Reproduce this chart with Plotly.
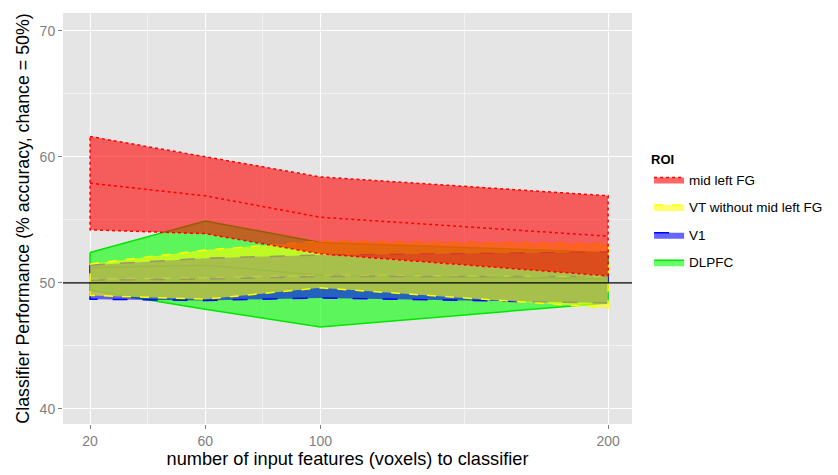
import plotly.graph_objects as go

features = [20, 60, 100, 200]

fg_mean = [57.9, 56.9, 55.2, 53.7]
fg_upper = [61.6, 60.0, 58.4, 56.9]
fg_lower = [54.2, 53.9, 52.3, 50.55]

vt_mean = [50.3, 50.4, 50.6, 50.5]
vt_upper = [51.5, 52.6, 53.3, 53.1]
vt_lower = [49.0, 48.7, 49.6, 48.0]

v1_mean = [50.2, 50.3, 50.5, 50.5]
v1_upper = [51.4, 51.95, 52.2, 52.45]
v1_lower = [48.7, 48.6, 48.8, 48.4]

dl_mean = [51.2, 51.4, 50.6, 50.3]
dl_upper = [52.4, 54.9, 53.2, 52.4]
dl_lower = [49.4, 47.9, 46.5, 48.4]

# drawn back to front; legendrank gives the legend order
series = [
    ("DLPFC", dl_mean, dl_upper, dl_lower, "rgb(0,230,0)", "rgba(0,255,0,0.6)", "solid", 4, "rgba(0,200,0,0.8)"),
    ("V1", v1_mean, v1_upper, v1_lower, "rgb(0,0,255)", "rgba(0,0,255,0.6)", "longdash", 3, "rgb(0,0,255)"),
    ("VT without mid left FG", vt_mean, vt_upper, vt_lower, "rgb(255,255,0)", "rgba(255,255,0,0.6)", "dash", 2, "rgba(230,230,60,0.35)"),
    ("mid left FG", fg_mean, fg_upper, fg_lower, "rgb(255,0,0)", "rgba(255,0,0,0.6)", "dot", 1, "rgb(255,0,0)"),
]

fig = go.Figure()
for name, mean, up, lo, col, fcol, dash, rank, mcol in series:
    fig.add_trace(go.Scatter(
        x=features + features[::-1] + [features[0]],
        y=up + lo[::-1] + [up[0]],
        mode="lines", fill="toself", fillcolor=fcol,
        line=dict(color=col, width=1.5, dash=dash),
        name=name, legendrank=rank, legendgroup=name, hoverinfo="skip",
    ))
    fig.add_trace(go.Scatter(
        x=features, y=mean, mode="lines",
        line=dict(color=mcol, width=1.5, dash=dash),
        showlegend=False, name=name, legendgroup=name,
    ))

fig.add_shape(type="line", xref="paper", x0=0, x1=1, yref="y", y0=50, y1=50,
              line=dict(color="black", width=1.2))

fig.update_layout(
    width=830, height=467,
    margin=dict(l=55, r=206, t=5, b=51),
    paper_bgcolor="white", plot_bgcolor="#E5E5E5",
    font=dict(family="Liberation Sans, Arial, sans-serif", size=14, color="black"),
    showlegend=True,
    legend=dict(
        title=dict(text="<b>ROI</b>", font=dict(size=13)),
        x=1.03, xanchor="left", y=0.673, yanchor="top",
        font=dict(size=13.5), tracegroupgap=7, bgcolor="rgba(0,0,0,0)",
        itemwidth=30,
    ),
)
fig.update_xaxes(
    range=[10.6, 208.3], tickvals=[20, 60, 100, 200], ticktext=["20", "60", "100", "200"],
    showgrid=True, gridcolor="white", gridwidth=1.3,
    minor=dict(tickvals=[40, 80, 150], showgrid=True, gridcolor="#F2F2F2", gridwidth=0.6),
    ticks="outside", ticklen=4, tickcolor="#7F7F7F", tickfont=dict(size=14, color="#7F7F7F"),
    zeroline=False, showline=False, automargin=False,
    title=dict(text="number of input features (voxels) to classifier", font=dict(size=18.2), standoff=2),
)
fig.update_yaxes(
    range=[38.8, 71.4], tickvals=[40, 50, 60, 70],
    showgrid=True, gridcolor="white", gridwidth=1.3,
    minor=dict(tickvals=[45, 55, 65], showgrid=True, gridcolor="#F2F2F2", gridwidth=0.6),
    ticks="outside", ticklen=4, tickcolor="#7F7F7F", tickfont=dict(size=14, color="#7F7F7F"),
    zeroline=False, showline=False, automargin=False,
    title=dict(text="Classifier Performance (% accuracy, chance = 50%)", font=dict(size=17.8), standoff=5),
)

fig.write_html("out.html")
